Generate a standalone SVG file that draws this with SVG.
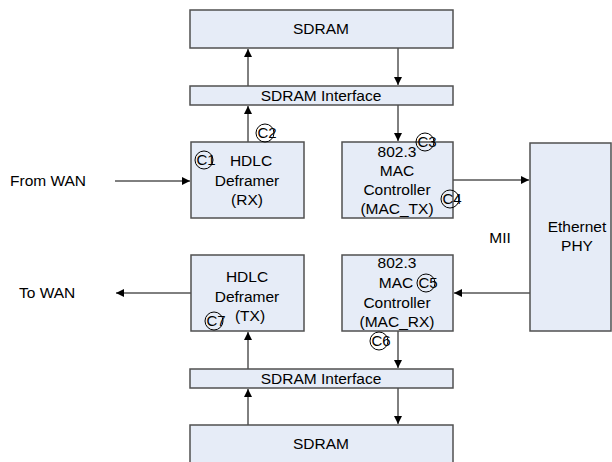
<svg xmlns="http://www.w3.org/2000/svg" width="612" height="462" viewBox="0 0 612 462">
<style>
.box{fill:#E6ECF7;stroke:#505050;stroke-width:1.5}
.t{font-family:"Liberation Sans",Arial,sans-serif;font-size:15.5px;fill:#000;text-anchor:middle}
.l{font-family:"Liberation Sans",Arial,sans-serif;font-size:15.5px;fill:#000}
.c{fill:none;stroke:#000;stroke-width:1}
.ct{font-family:"Liberation Sans",Arial,sans-serif;font-size:15px;fill:#000;text-anchor:middle}
.w{stroke:#000;stroke-width:1;fill:none}
</style>
<defs>
<marker id="ah" viewBox="0 0 10 10" refX="10" refY="5" markerWidth="8" markerHeight="8" markerUnits="userSpaceOnUse" orient="auto">
<path d="M0,0 L10,5 L0,10 z" fill="#000"/>
</marker>
</defs>
<g id="connectors">
<line class="w" x1="248" y1="86" x2="248" y2="49" marker-end="url(#ah)"/>
<line class="w" x1="398" y1="48" x2="398" y2="85" marker-end="url(#ah)"/>
<line class="w" x1="248" y1="142" x2="248" y2="106" marker-end="url(#ah)"/>
<line class="w" x1="398" y1="105" x2="398" y2="141" marker-end="url(#ah)"/>
<line class="w" x1="115" y1="181" x2="190" y2="181" marker-end="url(#ah)"/>
<line class="w" x1="453" y1="180" x2="529" y2="180" marker-end="url(#ah)"/>
<line class="w" x1="530" y1="293" x2="454" y2="293" marker-end="url(#ah)"/>
<line class="w" x1="191" y1="293" x2="116" y2="293" marker-end="url(#ah)"/>
<line class="w" x1="248" y1="369" x2="248" y2="332" marker-end="url(#ah)"/>
<line class="w" x1="398" y1="331" x2="398" y2="368" marker-end="url(#ah)"/>
<line class="w" x1="248" y1="425" x2="248" y2="389" marker-end="url(#ah)"/>
<line class="w" x1="398" y1="388" x2="398" y2="424" marker-end="url(#ah)"/>
</g>
<g id="sdram_top">
<rect class="box" x="190" y="10" width="263" height="38"/>
<text class="t" x="321" y="34">SDRAM</text>
</g>
<g id="sdram_if_top">
<rect class="box" x="190" y="86" width="263" height="19"/>
<text class="t" x="321" y="101">SDRAM Interface</text>
</g>
<g id="hdlc_rx">
<rect class="box" x="191" y="142" width="113" height="76"/>
<text class="t" x="247" y="166"><tspan x="251">HDLC</tspan><tspan x="247" dy="19.5">Deframer</tspan><tspan x="247" dy="19.5">(RX)</tspan></text>
<circle class="c" cx="204" cy="160" r="9"/>
<text class="ct" x="206" y="165">C1</text>
<circle class="c" cx="265" cy="133" r="9"/>
<text class="ct" x="267" y="138">C2</text>
</g>
<g id="mac_tx">
<rect class="box" x="342" y="142" width="111" height="76"/>
<text class="t" x="397" y="157"><tspan x="397">802.3</tspan><tspan x="397" dy="19">MAC</tspan><tspan x="397" dy="19">Controller</tspan><tspan x="397" dy="19">(MAC_TX)</tspan></text>
<circle class="c" cx="425" cy="142" r="9"/>
<text class="ct" x="427" y="147">C3</text>
<circle class="c" cx="450" cy="199" r="9"/>
<text class="ct" x="452" y="204">C4</text>
</g>
<g id="eth_phy">
<rect class="box" x="530" y="143" width="81" height="188"/>
<text class="t" x="577" y="232"><tspan x="577">Ethernet</tspan><tspan x="577" dy="19">PHY</tspan></text>
</g>
<g id="hdlc_tx">
<rect class="box" x="191" y="255" width="113" height="76"/>
<text class="t" x="247" y="282"><tspan x="247">HDLC</tspan><tspan x="247" dy="19.5">Deframer</tspan><tspan x="250" dy="19">(TX)</tspan></text>
<circle class="c" cx="214" cy="321" r="9"/>
<text class="ct" x="216" y="326">C7</text>
</g>
<g id="mac_rx">
<rect class="box" x="342" y="255" width="111" height="76"/>
<text class="t" x="397" y="268"><tspan x="397">802.3</tspan><tspan x="396" dy="20">MAC</tspan><tspan x="397" dy="19.5">Controller</tspan><tspan x="397" dy="19">(MAC_RX)</tspan></text>
<circle class="c" cx="426" cy="283" r="9"/>
<text class="ct" x="428" y="288">C5</text>
<circle class="c" cx="379" cy="341" r="9"/>
<text class="ct" x="381" y="346">C6</text>
</g>
<g id="sdram_if_bot">
<rect class="box" x="190" y="369" width="263" height="19"/>
<text class="t" x="321" y="384">SDRAM Interface</text>
</g>
<g id="sdram_bot">
<rect class="box" x="190" y="425" width="263" height="38"/>
<text class="t" x="321" y="449">SDRAM</text>
</g>
<g id="labels">
<text class="l" x="10" y="186">From WAN</text>
<text class="l" x="19" y="298">To WAN</text>
<text class="t" x="500" y="243">MII</text>
</g>
</svg>
